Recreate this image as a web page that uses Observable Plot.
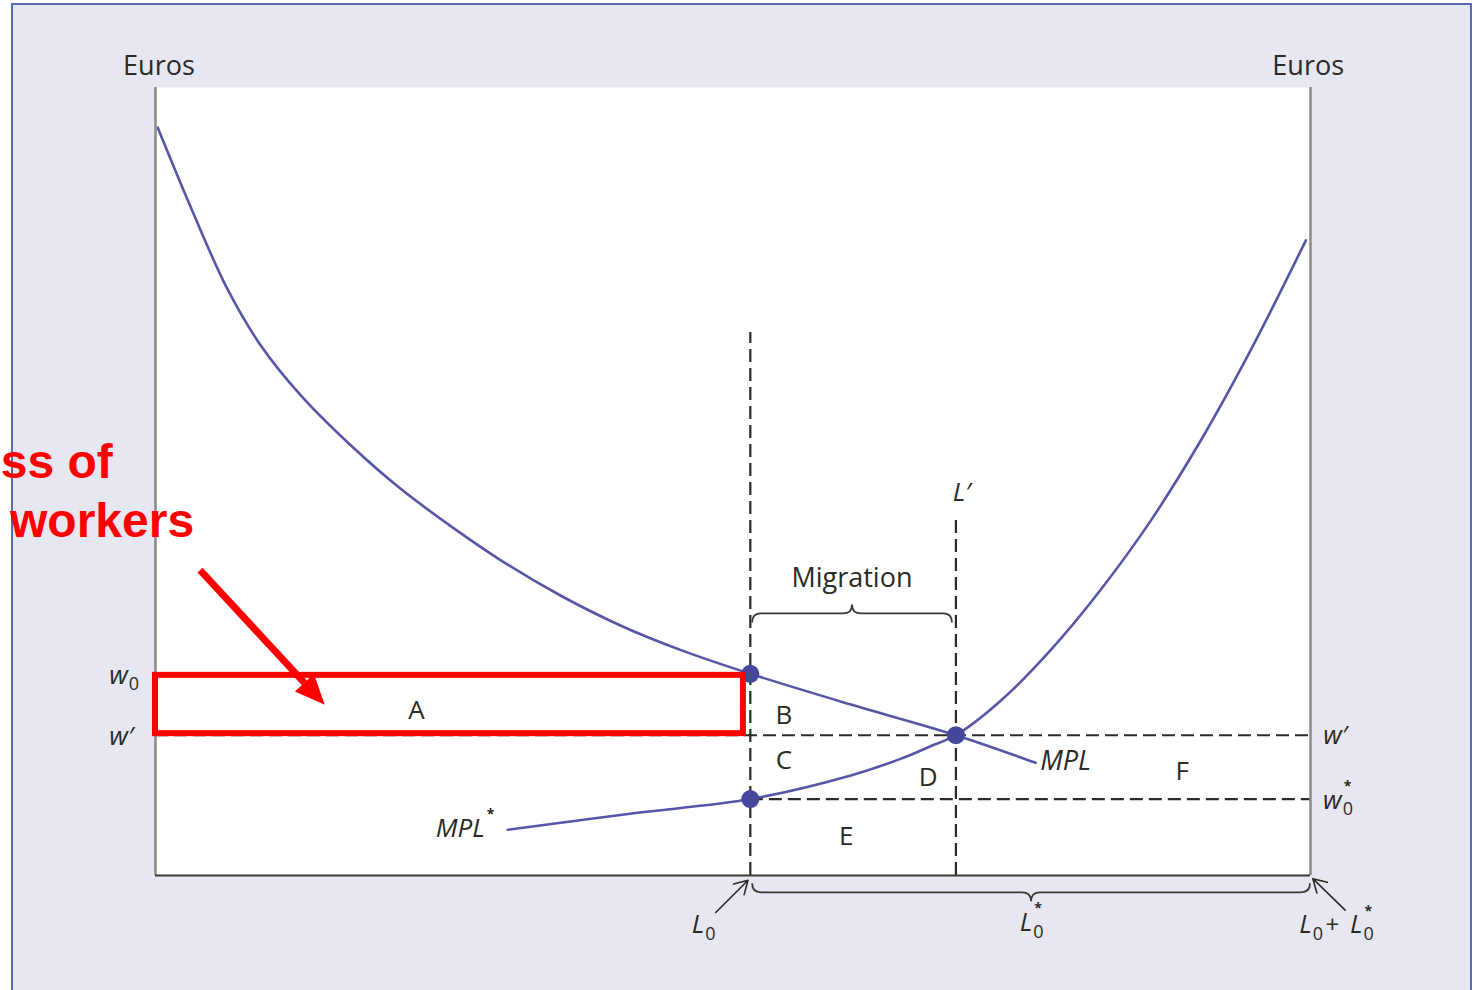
<!DOCTYPE html>
<html>
<head>
<meta charset="utf-8">
<script src="https://cdn.jsdelivr.net/npm/d3@7"></script>
<script src="https://cdn.jsdelivr.net/npm/@observablehq/plot@0.6"></script>
<style>
  html, body { margin: 0; padding: 0; background: #ffffff; width: 1478px; height: 990px; overflow: hidden; }
  #panel { position: absolute; left: 11px; top: 3px; width: 1461px; height: 1010px;
           background: #e7e7f1; border: 2px solid #5a6ab4; box-sizing: border-box; }
  #chart { position: absolute; left: 0; top: 0; }
</style>
</head>
<body>
<div id="panel"></div>
<div id="chart"></div>
<script>
// Labour market with migration: home labour measured from the left wall,
// foreign labour from the right wall. Labour and wages both run on 0–100.
const L0 = 51.5, Lprime = 69.3, Ltotal = 100;
const w0 = 25.6, wPrime = 17.8, w0Star = 9.7;

// Marginal product of labour at home (falls as home employment grows)
const mplHome = [
  [0.2, 94.9], [3.0, 85.0], [6.2, 74.5], [9.1, 67.3], [12.6, 60.9], [16.9, 54.6],
  [21.2, 49.1], [25.5, 44.4], [29.9, 40.0], [35.1, 35.5], [40.3, 31.7], [45.5, 28.6],
  [51.5, 25.6], [60.2, 21.7], [69.3, 17.8], [76.2, 14.3]
].map(([labor, wage]) => ({labor, wage}));

// Marginal product of labour abroad (read from the right wall)
const mplForeign = [
  [30.5, 5.8], [41.4, 7.9], [51.5, 9.7], [60.2, 12.7], [64.5, 14.8], [67.1, 16.4],
  [69.3, 17.8], [73.2, 22.2], [77.5, 28.6], [81.8, 36.2], [86.2, 45.1], [90.5, 55.2],
  [94.8, 66.6], [99.6, 80.6]
].map(([labor, wage]) => ({labor, wage}));

// Equilibrium points before and after migration
const equilibria = [
  {labor: L0, wage: w0},
  {labor: Lprime, wage: wPrime},
  {labor: L0, wage: w0Star}
];

// Dashed guide lines
const wageGuides = [
  {wage: w0, from: 0, to: L0},
  {wage: wPrime, from: 0, to: Ltotal},
  {wage: w0Star, from: L0, to: Ltotal}
];
const laborGuides = [
  {labor: L0, top: 68.9},
  {labor: Lprime, top: 45.7}
];

// Braces: the migrants, and the foreign workforce
const braces = [
  {from: L0 + 0.2, to: Lprime - 0.3, wage: 33.2, dir: -1},
  {from: L0 + 0.2, to: Ltotal, wage: -2.2, dir: 1}
];

// Small pointers from the axis labels to the axis
const axisPointers = [
  {x1: 48.5, y1: -4.7, x2: 51.3, y2: -0.6},
  {x1: 103.0, y1: -4.4, x2: 100.2, y2: -0.4}
];

// Area labels
const areaLabels = [
  {text: "A", labor: 22.6, wage: 20.9},
  {text: "B", labor: 54.4, wage: 20.3},
  {text: "C", labor: 54.4, wage: 14.6},
  {text: "D", labor: 66.9, wage: 12.4},
  {text: "E", labor: 59.8, wage: 4.9},
  {text: "F", labor: 88.9, wage: 13.2}
];

const titles = [
  {text: "Euros", labor: 0.3, wage: 102.7},
  {text: "Euros", labor: 99.8, wage: 102.7},
  {text: "Migration", labor: 60.3, wage: 37.7}
];

// Italic math labels: base text ends at x, sub/superscripts start there
const mathLabels = [
  {base: "w", sub: "0", labor: -2.4, wage: 25.4},
  {base: "w′", labor: -1.9, wage: 17.6},
  {base: "w′", labor: 103.2, wage: 17.8},
  {base: "w", sub: "0", sup: "*", labor: 102.7, wage: 9.5},
  {base: "L′", labor: 70.6, wage: 48.6},
  {base: "L", sub: "0", labor: 47.5, wage: -6.3},
  {base: "L", sub: "0", sup: "*", labor: 75.9, wage: -6.0},
  {base: "L", sub: "0", labor: 100.1, wage: -6.3},
  {base: "L", sub: "0", sup: "*", labor: 104.5, wage: -6.3},
  {base: "MPL", sup: "*", labor: 28.5, wage: 6.0}
];
const plainMath = [
  {text: "+", labor: 101.9, wage: -6.3, anchor: "middle", italic: false},
  {text: "MPL", labor: 76.6, wage: 14.5, anchor: "start", italic: true}
];

// Annotation in red
const noteLines = [
  {text: "ss of", labor: -13.4, wage: 50.4},
  {text: "workers", labor: -12.6, wage: 43.0}
];
const noteBox = [{x1: 0, x2: 50.9, y1: 18.0, y2: 25.4}];
const notePointer = {from: {labor: 3.9, wage: 38.7}, to: {labor: 14.7, wage: 21.6}};

const ink = "#2a2a26";
const curveColor = "#5656a6";

function braceMark(list) {
  return (index, scales) => {
    const g = d3.create("svg:g")
      .attr("fill", "none").attr("stroke", "#3a3a36").attr("stroke-width", 1.8);
    for (const b of list) {
      const x1 = scales.x(b.from), x2 = scales.x(b.to), y = scales.y(b.wage);
      const h = b.dir * 9, r = 9, xm = (x1 + x2) / 2;
      const p = d3.path();
      p.moveTo(x1, y - h);
      p.quadraticCurveTo(x1, y, x1 + r, y);
      p.lineTo(xm - r, y);
      p.quadraticCurveTo(xm, y, xm, y + h);
      p.quadraticCurveTo(xm, y, xm + r, y);
      p.lineTo(x2 - r, y);
      p.quadraticCurveTo(x2, y, x2, y - h);
      g.append("path").attr("d", p.toString());
    }
    return g.node();
  };
}

function pointerMark(ptr) {
  return (index, scales) => {
    const x1 = scales.x(ptr.from.labor), y1 = scales.y(ptr.from.wage);
    const x2 = scales.x(ptr.to.labor), y2 = scales.y(ptr.to.wage);
    const a = Math.atan2(y2 - y1, x2 - x1), len = 30, half = 13;
    const bx = x2 - len * Math.cos(a), by = y2 - len * Math.sin(a);
    const nx = -Math.sin(a) * half, ny = Math.cos(a) * half;
    const g = d3.create("svg:g");
    g.append("line").attr("x1", x1).attr("y1", y1).attr("x2", bx).attr("y2", by)
      .attr("stroke", "#ff0000").attr("stroke-width", 7);
    g.append("path")
      .attr("d", `M${x2},${y2}L${bx + nx},${by + ny}L${bx - nx},${by - ny}Z`)
      .attr("fill", "#ff0000");
    return g.node();
  };
}

const chart = Plot.plot({
  width: 1478,
  height: 990,
  marginLeft: 155,
  marginRight: 168,
  marginTop: 87,
  marginBottom: 115,
  x: {domain: [0, 100], axis: null},
  y: {domain: [0, 100], axis: null},
  style: {background: "none", fontFamily: "'Open Sans', sans-serif", color: ink, overflow: "visible"},
  marks: [
    Plot.frame({fill: "#ffffff", stroke: "none"}),
    Plot.ruleY(wageGuides, {y: "wage", x1: "from", x2: "to", stroke: ink, strokeWidth: 2.2, strokeDasharray: "13,6"}),
    Plot.ruleX(laborGuides, {x: "labor", y1: 0, y2: "top", stroke: ink, strokeWidth: 2.2, strokeDasharray: "13,6"}),
    Plot.ruleX([0, Ltotal], {stroke: "#8a8a86", strokeWidth: 2.5}),
    Plot.ruleY([0], {stroke: "#3a3a32", strokeWidth: 2.2}),
    Plot.line(mplHome, {x: "labor", y: "wage", curve: "catmull-rom", stroke: curveColor, strokeWidth: 2.6}),
    Plot.line(mplForeign, {x: "labor", y: "wage", curve: "catmull-rom", stroke: curveColor, strokeWidth: 2.6}),
    Plot.dot(equilibria, {x: "labor", y: "wage", r: 9, fill: "#46469a"}),
    braceMark(braces),
    Plot.arrow(axisPointers, {x1: "x1", y1: "y1", x2: "x2", y2: "y2", bend: 0, headLength: 14, stroke: ink, strokeWidth: 1.6}),
    Plot.text(areaLabels, {x: "labor", y: "wage", text: "text", fontSize: 26, fill: ink}),
    Plot.text(titles, {x: "labor", y: "wage", text: "text", fontSize: 27, fill: ink}),
    Plot.text(mathLabels, {x: "labor", y: "wage", text: "base", textAnchor: "end", fontSize: 26, fontStyle: "italic", fill: ink}),
    Plot.text(mathLabels.filter(d => d.sub), {x: "labor", y: "wage", text: "sub", textAnchor: "start", dx: 1, dy: 9, fontSize: 18, fill: ink}),
    Plot.text(mathLabels.filter(d => d.sup), {x: "labor", y: "wage", text: "sup", textAnchor: "start", dx: 2, dy: -14, fontSize: 14, fontWeight: "bold", fill: ink}),
    Plot.text(plainMath.filter(d => d.italic), {x: "labor", y: "wage", text: "text", textAnchor: "start", fontSize: 27, fontStyle: "italic", fill: ink}),
    Plot.text(plainMath.filter(d => !d.italic), {x: "labor", y: "wage", text: "text", fontSize: 24, fill: ink}),
    Plot.rect(noteBox, {x1: "x1", x2: "x2", y1: "y1", y2: "y2", fill: "none", stroke: "#ff0000", strokeWidth: 6}),
    pointerMark(notePointer),
    Plot.text(noteLines, {x: "labor", y: "wage", text: "text", textAnchor: "start", lineAnchor: "bottom",
      fontSize: 48, fontWeight: "bold", fontFamily: "'Liberation Sans', Arial, sans-serif", fill: "#ff0000"})
  ]
});

document.getElementById("chart").appendChild(chart);
</script>
</body>
</html>
